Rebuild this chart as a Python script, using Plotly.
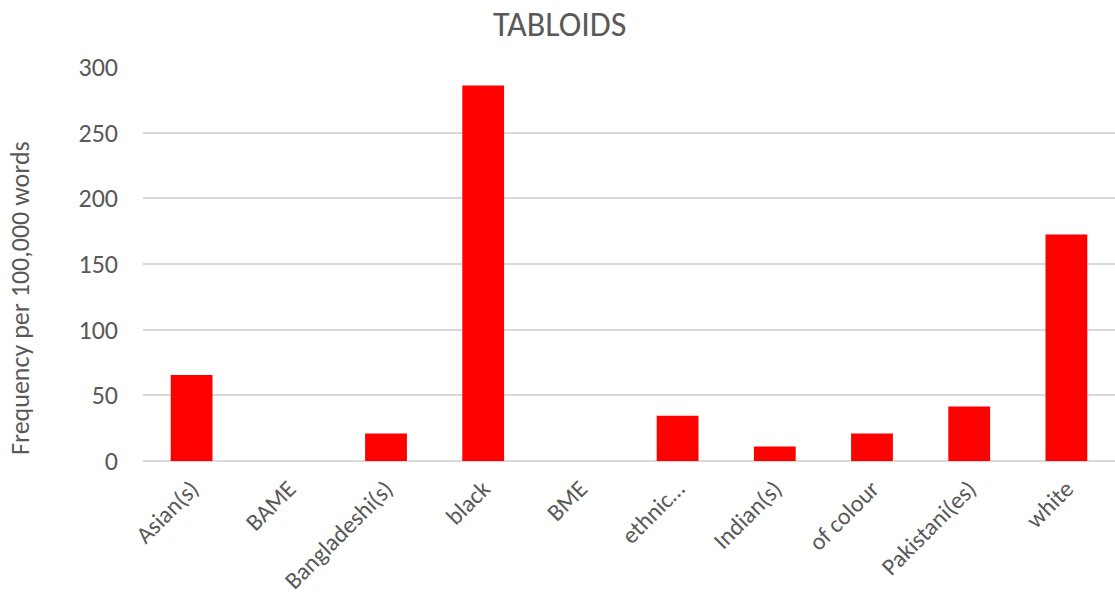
import plotly.graph_objects as go

# Term frequencies in tabloid newspapers
categories = ["Asian(s)", "BAME", "Bangladeshi(s)", "black", "BME",
              "ethnic…", "Indian(s)", "of colour", "Pakistani(es)", "white"]
frequency = [65.5, 0, 21, 286, 0, 34.5, 11, 21, 41.5, 172.5]
y_ticks = [0, 50, 100, 150, 200, 250, 300]

W, H = 1115, 605
ml, mr, mt, mb = 143, 0, 67, 144
FONT = "Carlito, Calibri, Lato, 'Open Sans', sans-serif"
GREY = "#595959"
TICK_SIZE = 26
XTICK_SIZE = 24

fig = go.Figure(go.Bar(
    x=categories,
    y=frequency,
    marker=dict(color="#ff0000", line=dict(width=0)),
))

fig.update_layout(
    width=W, height=H,
    margin=dict(l=ml, r=mr, t=mt, b=mb, pad=0, autoexpand=False),
    paper_bgcolor="white",
    plot_bgcolor="white",
    bargap=0.57,
    showlegend=False,
    font=dict(family=FONT, color=GREY, size=TICK_SIZE),
    title=dict(text="TABLOIDS", x=0.502, xref="container", xanchor="center",
               y=1 - 24 / H, yref="container", yanchor="middle",
               font=dict(family=FONT, size=34, color=GREY)),
    xaxis=dict(
        tickangle=-45,
        tickfont=dict(family=FONT, size=XTICK_SIZE, color=GREY),
        showgrid=False,
        showline=False,
        ticks="",
        ticklabelstandoff=8,
        automargin=False,
    ),
    yaxis=dict(
        range=[0, 300],
        tickvals=y_ticks,
        tickfont=dict(family=FONT, size=TICK_SIZE, color=GREY),
        showgrid=True,
        gridcolor="#d9d9d9",
        gridwidth=1.5,
        zeroline=True,
        zerolinecolor="#d9d9d9",
        zerolinewidth=1.5,
        showline=False,
        ticks="",
        ticklabelstandoff=24,
        automargin=False,
    ),
)

# Vertical axis title
plot_h = H - mt - mb
fig.add_annotation(
    text="Frequency per 100,000 words",
    textangle=-90,
    xref="paper", yref="paper",
    x=(20 - ml) / (W - ml - mr), y=(H - mb - 298) / plot_h,
    xanchor="center", yanchor="middle",
    showarrow=False,
    font=dict(family=FONT, size=TICK_SIZE, color=GREY),
)

fig.write_html("out.html")
